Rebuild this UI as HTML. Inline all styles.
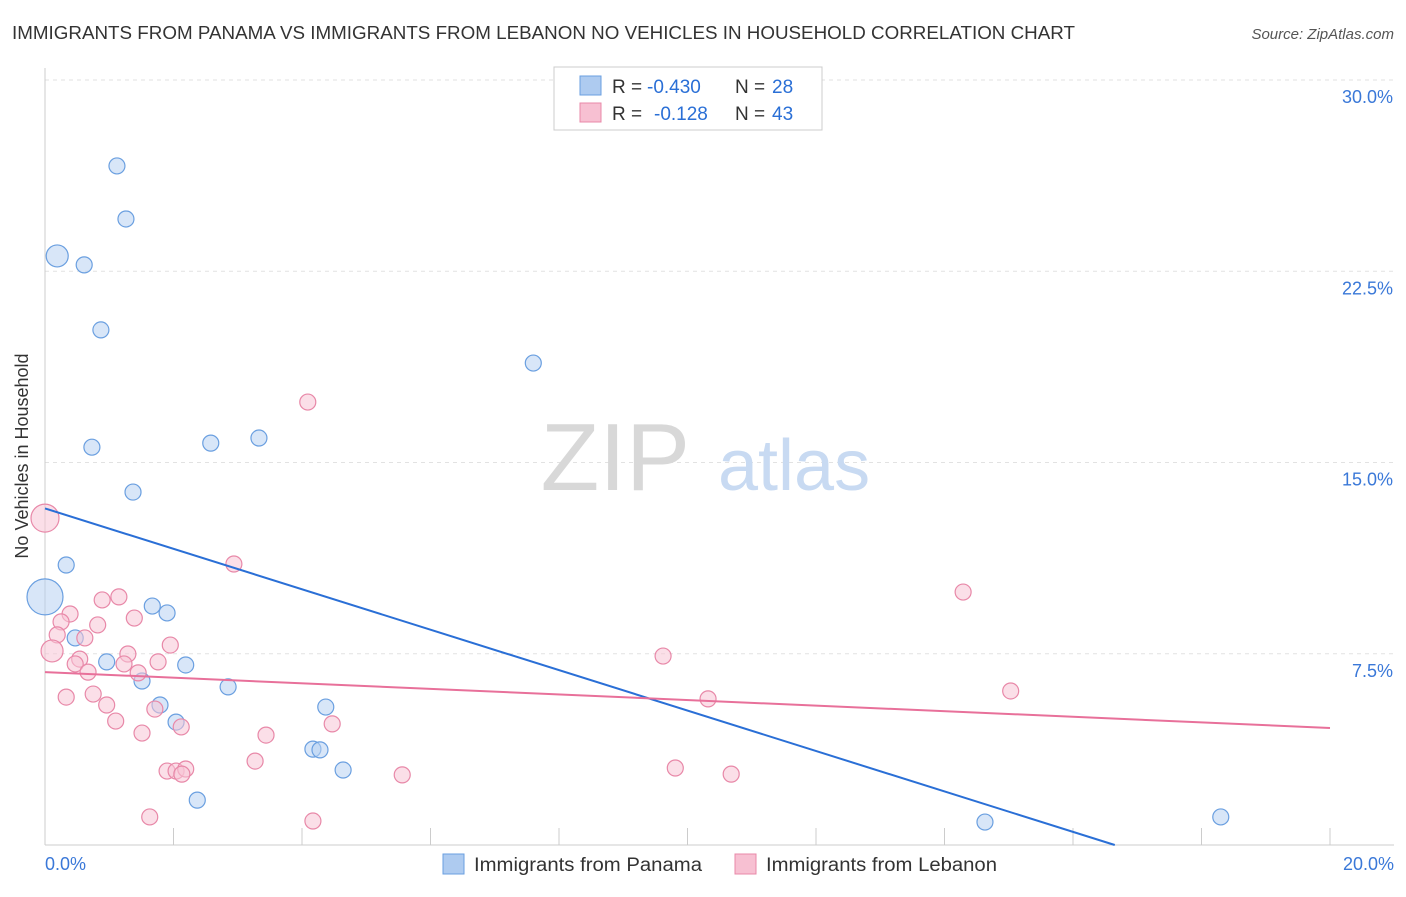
<!DOCTYPE html>
<html><head><meta charset="utf-8"><style>
body{margin:0;background:#fff;font-family:"Liberation Sans",sans-serif;}
svg text{font-family:"Liberation Sans",sans-serif;}
</style></head><body>
<svg id="chart" width="1406" height="892">
<text x="12" y="39" font-size="18" fill="#333" textLength="1063" lengthAdjust="spacingAndGlyphs">IMMIGRANTS FROM PANAMA VS IMMIGRANTS FROM LEBANON NO VEHICLES IN HOUSEHOLD CORRELATION CHART</text>
<text x="1394" y="39" font-size="15" fill="#555" font-style="italic" text-anchor="end">Source: ZipAtlas.com</text>
<g id="grid"></g>
<text x="690" y="490" font-size="96" fill="#d8d8d8" font-family="Liberation Serif" text-anchor="end">ZIP</text>
<text x="718" y="490" font-size="72" fill="#c8daf2">atlas</text>
<line x1="45" y1="68" x2="45" y2="845" stroke="#ccc"/>
<line x1="45" y1="845" x2="1394" y2="845" stroke="#ccc"/>
<text x="28" y="456" font-size="18" fill="#333" text-anchor="middle" transform="rotate(-90 28 456)">No Vehicles in Household</text>
<text x="45" y="870" font-size="18" fill="#3a78d8">0.0%</text>
<text x="1394" y="870" font-size="18" fill="#3a78d8" text-anchor="end">20.0%</text>
<g id="ticks"></g>
<g id="marks"></g>
<g>
<rect x="554" y="67" width="268" height="63" fill="#fff" stroke="#ccc"/>
<rect x="580" y="76" width="21" height="19" fill="#aecbf0" stroke="#6a9fe0"/>
<text x="612" y="93" font-size="19" fill="#333">R =</text>
<text x="647" y="93" font-size="19" fill="#2a6fd6">-0.430</text>
<text x="735" y="93" font-size="19" fill="#333">N =</text>
<text x="772" y="93" font-size="19" fill="#2a6fd6">28</text>
<rect x="580" y="103" width="21" height="19" fill="#f7c0d2" stroke="#e888a8"/>
<text x="612" y="120" font-size="19" fill="#333">R =</text>
<text x="654" y="120" font-size="19" fill="#2a6fd6">-0.128</text>
<text x="735" y="120" font-size="19" fill="#333">N =</text>
<text x="772" y="120" font-size="19" fill="#2a6fd6">43</text>
</g>
<g>
<rect x="443" y="854" width="21" height="20" fill="#aecbf0" stroke="#6a9fe0"/>
<text x="474" y="871" font-size="19" fill="#333" textLength="228" lengthAdjust="spacingAndGlyphs">Immigrants from Panama</text>
<rect x="735" y="854" width="21" height="20" fill="#f7c0d2" stroke="#e888a8"/>
<text x="766" y="871" font-size="19" fill="#333" textLength="231" lengthAdjust="spacingAndGlyphs">Immigrants from Lebanon</text>
</g>
</svg>
<script>
const yTicks=[7.5,15,22.5,30];
const yTickLabels=["7.5%","15.0%","22.5%","30.0%"];
const xTickVals=[0,2,4,6,8,10,12,14,16,18,20];
const panamaX=[1.12,1.26,0.19,0.61,0.87,7.6,0.73,2.58,3.33,1.37,0.33,0.0,1.67,1.9,0.47,0.96,2.19,1.51,2.85,1.79,4.37,2.04,4.17,4.28,4.64,2.37,14.63,18.3];
const panamaY=[26.63,24.55,23.1,22.75,20.2,18.9,15.6,15.76,15.96,13.84,10.98,9.73,9.37,9.1,8.12,7.18,7.06,6.43,6.2,5.49,5.41,4.82,3.76,3.73,2.94,1.76,0.9,1.1];
const panamaR=[8,8,11,8,8,8,8,8,8,8,8,18,8,8,8,8,8,8,8,8,8,8,8,8,8,8,8,8];
const lebanonX=[4.09,0,2.94,14.29,1.15,0.89,0.39,1.39,0.25,0.82,0.19,0.62,1.95,0.11,1.29,0.54,0.47,1.23,1.76,0.67,1.45,9.62,0.75,0.33,15.03,0.96,10.32,1.71,1.1,4.47,2.12,1.51,3.44,3.27,1.9,2.04,2.19,2.13,5.56,9.81,10.68,1.63,4.17];
const lebanonY=[17.37,12.82,11.02,9.92,9.73,9.61,9.06,8.9,8.75,8.63,8.24,8.12,7.84,7.61,7.49,7.29,7.1,7.1,7.18,6.78,6.75,7.41,5.92,5.8,6.04,5.49,5.73,5.33,4.86,4.75,4.63,4.39,4.31,3.29,2.9,2.9,2.98,2.78,2.75,3.02,2.78,1.1,0.94];
const lebanonR=[8,14,8,8,8,8,8,8,8,8,8,8,8,11,8,8,8,8,8,8,8,8,8,8,8,8,8,8,8,8,8,8,8,8,8,8,8,8,8,8,8,8,8];
const panamaTrend=[13.2,-0.7928];
const lebanonTrend=[6.78,-0.1095];
const NS="http://www.w3.org/2000/svg";
const xs=v=>45+v*64.25, ys=v=>845-v*25.5;
function mk(t,a,p){const e=document.createElementNS(NS,t);for(const k in a)e.setAttribute(k,a[k]);p.appendChild(e);return e;}
const grid=document.getElementById('grid'),ticks=document.getElementById('ticks'),marks=document.getElementById('marks');
yTicks.forEach((v,i)=>{
 const l=mk('line',{x1:45,x2:1394,y1:ys(v),y2:ys(v),stroke:'#e2e2e2','stroke-dasharray':'4,4'},grid);
 
 
 const t=mk('text',{x:1393,y:ys(v)+23,'font-size':18,fill:'#3a78d8','text-anchor':'end'},ticks);
 t.textContent=yTickLabels[i];
 
 
});
xTickVals.forEach(v=>{
 const l=mk('line',{x1:xs(v),x2:xs(v),y1:828,y2:845,stroke:'#ccc'},ticks);
 
 
});
function dots(X,Y,R,fill,stroke,name){
 X.forEach((x,i)=>{
  const c=mk('circle',{cx:xs(x),cy:ys(Y[i]),r:R[i],fill:fill,'fill-opacity':0.55,stroke:stroke,'stroke-width':1.2},marks);
  
  
 });
}
dots(panamaX,panamaY,panamaR,'#b8d2f2','#6a9fe0','panama-point');
dots(lebanonX,lebanonY,lebanonR,'#f8c4d5','#e888a8','lebanon-point');
const bx2=-panamaTrend[0]/panamaTrend[1];
const l1=mk('line',{x1:xs(0),y1:ys(panamaTrend[0]),x2:xs(bx2),y2:ys(0),stroke:'#2a6fd6','stroke-width':2},marks);


const l2=mk('line',{x1:xs(0),y1:ys(lebanonTrend[0]),x2:xs(20),y2:ys(lebanonTrend[0]+20*lebanonTrend[1]),stroke:'#e8709a','stroke-width':2},marks);


</script>
</body></html>
